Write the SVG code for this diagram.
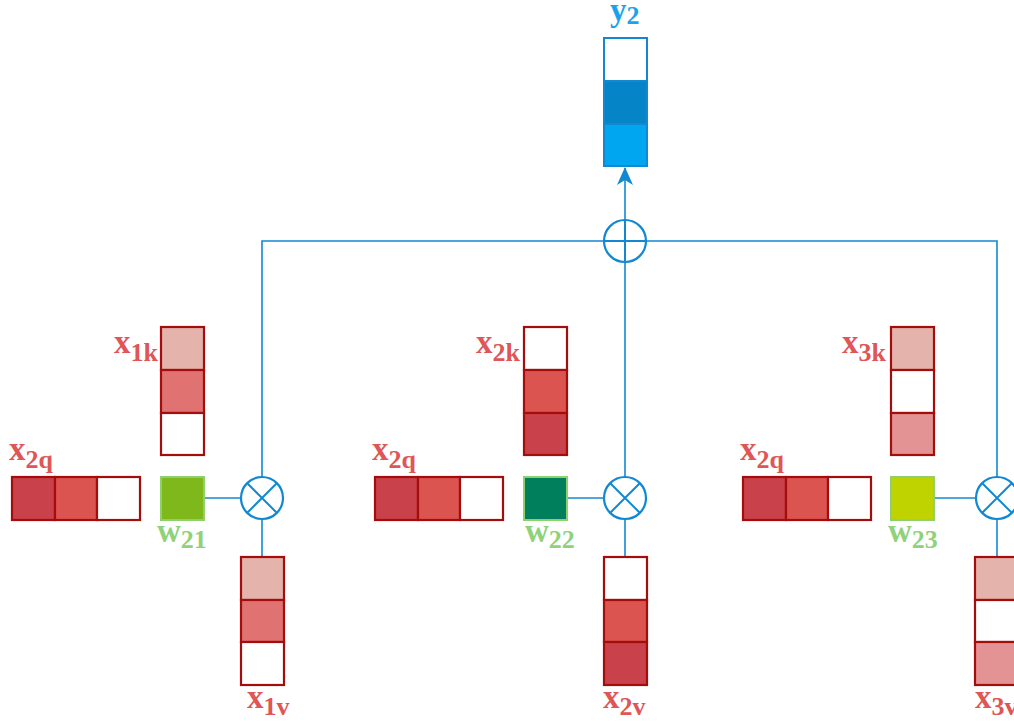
<svg xmlns="http://www.w3.org/2000/svg" width="1014" height="722" viewBox="0 0 1014 722">
<defs>
<style>
.cell{stroke:#a50d0d;stroke-width:2.2}
.w{stroke:#8fcf6f;stroke-width:2}
.conn{stroke:#1288d2;stroke-width:1.6;fill:none}
.op{stroke:#1288d2;stroke-width:2.2;fill:#fff}
.lr{font-family:"Liberation Serif",serif;font-weight:bold;font-size:33px;fill:#e05555}
.lg{font-family:"Liberation Serif",serif;font-weight:bold;font-size:33px;fill:#8fd27a}
.lb{font-family:"Liberation Serif",serif;font-weight:bold;font-size:33px;fill:#1aa3ec}
.sub{font-size:26px}
.ybox{stroke:#1288d2;stroke-width:2}
</style>
<marker id="arr" viewBox="0 0 18 16" refX="17" refY="8" markerWidth="18" markerHeight="16" markerUnits="userSpaceOnUse" orient="auto">
<path d="M0,0 L18,8 L0,16 L5,8 z" fill="#1288d2"/>
</marker>
</defs>
<rect width="1014" height="722" fill="#fff"/>

<g id="connectors">
<polyline class="conn" points="262,477 262,241 997,241 997,477"/>
<line class="conn" x1="625" y1="477" x2="625" y2="262"/>
<line class="conn" x1="625" y1="220" x2="625" y2="168" marker-end="url(#arr)"/>
<line class="conn" x1="204" y1="498" x2="241" y2="498"/>
<line class="conn" x1="262" y1="519" x2="262" y2="557"/>
<line class="conn" x1="567" y1="498" x2="604" y2="498"/>
<line class="conn" x1="625" y1="519" x2="625" y2="557"/>
<line class="conn" x1="934" y1="498" x2="976" y2="498"/>
<line class="conn" x1="997" y1="519" x2="997" y2="557"/>
</g>

<g id="y2">
<rect class="ybox" x="604" y="38" width="43" height="43" fill="#fff"/>
<rect class="ybox" x="604" y="81" width="43" height="43" fill="#0584c8"/>
<rect class="ybox" x="604" y="124" width="43" height="42" fill="#00a6f0"/>
<text class="lb" x="610" y="21">y<tspan class="sub" dy="3">2</tspan></text>
</g>

<g id="sum">
<circle class="op" cx="625" cy="241" r="21"/>
<line class="conn" x1="604" y1="241" x2="646" y2="241" style="stroke-width:2"/>
<line class="conn" x1="625" y1="220" x2="625" y2="262" style="stroke-width:2"/>
</g>

<g id="mul1">
<circle class="op" cx="262" cy="498" r="21"/>
<path class="conn" d="M247,483 L277,513 M277,483 L247,513" style="stroke-width:2"/>
</g>
<g id="mul2">
<circle class="op" cx="625" cy="498" r="21"/>
<path class="conn" d="M610,483 L640,513 M640,483 L610,513" style="stroke-width:2"/>
</g>
<g id="mul3">
<circle class="op" cx="997" cy="498" r="21"/>
<path class="conn" d="M982,483 L1012,513 M1012,483 L982,513" style="stroke-width:2"/>
</g>

<!-- group 1 -->
<g id="x1k">
<rect class="cell" x="161" y="327" width="43" height="43" fill="#e4b3ab"/>
<rect class="cell" x="161" y="370" width="43" height="43" fill="#e07272"/>
<rect class="cell" x="161" y="413" width="43" height="42" fill="#fff"/>
<text class="lr" x="114" y="353">x<tspan class="sub" dy="8">1k</tspan></text>
</g>
<g id="x2q_1">
<rect class="cell" x="12" y="477" width="43" height="43" fill="#c9414a"/>
<rect class="cell" x="55" y="477" width="42" height="43" fill="#dc5450"/>
<rect class="cell" x="97" y="477" width="43" height="43" fill="#fff"/>
<text class="lr" x="9" y="460">x<tspan class="sub" dy="8">2q</tspan></text>
</g>
<g id="w21">
<rect class="w" x="161" y="477" width="43" height="43" fill="#7eb81a"/>
<text class="lg" x="157" y="542">w<tspan class="sub" dy="6">21</tspan></text>
</g>
<g id="x1v">
<rect class="cell" x="241" y="557" width="43" height="43" fill="#e4b3ab"/>
<rect class="cell" x="241" y="600" width="43" height="42" fill="#e07272"/>
<rect class="cell" x="241" y="642" width="43" height="43" fill="#fff"/>
<text class="lr" x="247" y="708">x<tspan class="sub" dy="7">1v</tspan></text>
</g>

<!-- group 2 -->
<g id="x2k">
<rect class="cell" x="524" y="327" width="43" height="43" fill="#fff"/>
<rect class="cell" x="524" y="370" width="43" height="43" fill="#dc5450"/>
<rect class="cell" x="524" y="413" width="43" height="42" fill="#c9414a"/>
<text class="lr" x="476" y="353">x<tspan class="sub" dy="8">2k</tspan></text>
</g>
<g id="x2q_2">
<rect class="cell" x="375" y="477" width="43" height="43" fill="#c9414a"/>
<rect class="cell" x="418" y="477" width="42" height="43" fill="#dc5450"/>
<rect class="cell" x="460" y="477" width="43" height="43" fill="#fff"/>
<text class="lr" x="372" y="460">x<tspan class="sub" dy="8">2q</tspan></text>
</g>
<g id="w22">
<rect class="w" x="524" y="477" width="43" height="43" fill="#007f5c"/>
<text class="lg" x="525" y="542">w<tspan class="sub" dy="6">22</tspan></text>
</g>
<g id="x2v">
<rect class="cell" x="604" y="557" width="43" height="43" fill="#fff"/>
<rect class="cell" x="604" y="600" width="43" height="42" fill="#dc5450"/>
<rect class="cell" x="604" y="642" width="43" height="43" fill="#c9414a"/>
<text class="lr" x="603" y="708">x<tspan class="sub" dy="7">2v</tspan></text>
</g>

<!-- group 3 -->
<g id="x3k">
<rect class="cell" x="891" y="327" width="43" height="43" fill="#e4b3ab"/>
<rect class="cell" x="891" y="370" width="43" height="43" fill="#fff"/>
<rect class="cell" x="891" y="413" width="43" height="42" fill="#e39393"/>
<text class="lr" x="842" y="353">x<tspan class="sub" dy="8">3k</tspan></text>
</g>
<g id="x2q_3">
<rect class="cell" x="743" y="477" width="43" height="43" fill="#c9414a"/>
<rect class="cell" x="786" y="477" width="42" height="43" fill="#dc5450"/>
<rect class="cell" x="828" y="477" width="43" height="43" fill="#fff"/>
<text class="lr" x="740" y="460">x<tspan class="sub" dy="8">2q</tspan></text>
</g>
<g id="w23">
<rect class="w" x="891" y="477" width="43" height="43" fill="#bfd300"/>
<text class="lg" x="888" y="542">w<tspan class="sub" dy="6">23</tspan></text>
</g>
<g id="x3v">
<rect class="cell" x="975" y="557" width="43" height="43" fill="#e4b3ab"/>
<rect class="cell" x="975" y="600" width="43" height="42" fill="#fff"/>
<rect class="cell" x="975" y="642" width="43" height="43" fill="#e39393"/>
<text class="lr" x="975" y="708">x<tspan class="sub" dy="7">3v</tspan></text>
</g>
</svg>
